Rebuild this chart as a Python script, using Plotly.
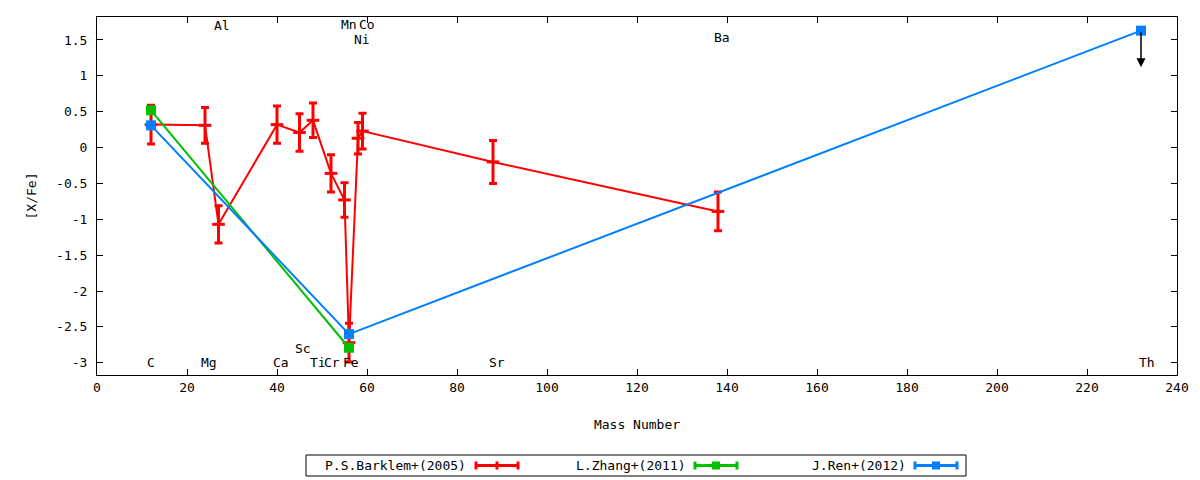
import plotly.graph_objects as go

# [X/Fe] against mass number for three abundance studies
barklem_mass = [12, 24, 27, 40, 45, 48, 52, 55, 56, 58, 59, 88, 138]
barklem_xfe = [0.32, 0.31, -1.07, 0.32, 0.21, 0.38, -0.36, -0.73, -2.72, 0.13, 0.23, -0.20, -0.89]
barklem_err = [0.27, 0.25, 0.26, 0.26, 0.26, 0.24, 0.26, 0.24, 0.27, 0.22, 0.25, 0.30, 0.27]

zhang_mass = [12, 56]
zhang_xfe = [0.52, -2.79]

ren_mass = [12, 56, 232]
ren_xfe = [0.31, -2.60, 1.63]
th_limit_tip = 1.12

elem_names = ["C", "Mg", "Al", "Ca", "Sc", "Ti", "Cr", "Fe", "Mn", "Co", "Ni", "Sr", "Ba", "Th"]
elem_x = [12.1, 24.9, 27.7, 40.9, 45.8, 49.1, 52.3, 56.5, 55.9, 59.9, 58.8, 88.8, 138.8, 233.4]
elem_y = [-3.0, -3.0, 1.7, -3.0, -2.8, -3.0, -3.0, -3.0, 1.71, 1.71, 1.5, -3.0, 1.54, -3.0]

x_ticks = list(range(0, 241, 20))
y_ticks = [1.5, 1, 0.5, 0, -0.5, -1, -1.5, -2, -2.5, -3]
y_ticktext = ["1.5", "1", "0.5", "0", "-0.5", "-1", "-1.5", "-2", "-2.5", "-3"]

RED = "#ff0000"
GREEN = "#00c000"
BLUE = "#0080ff"
FONT = "DejaVu Sans Mono"

fig = go.Figure()

fig.add_trace(go.Scatter(
    x=barklem_mass, y=barklem_xfe, mode="lines+markers", name="P.S.Barklem+(2005)",
    line=dict(color=RED, width=2),
    marker=dict(symbol="line-ew-open", size=9, line=dict(color=RED, width=3)),
    error_y=dict(type="data", array=barklem_err, color=RED, thickness=3, width=4),
))
fig.add_trace(go.Scatter(
    x=zhang_mass, y=zhang_xfe, mode="lines+markers", name="L.Zhang+(2011)",
    line=dict(color=GREEN, width=2),
    marker=dict(symbol="square", size=10, color=GREEN),
))
fig.add_trace(go.Scatter(
    x=ren_mass, y=ren_xfe, mode="lines+markers", name="J.Ren+(2012)",
    line=dict(color=BLUE, width=2),
    marker=dict(symbol="square", size=10, color=BLUE),
))

# Th upper limit arrow
fig.add_annotation(x=ren_mass[-1], y=th_limit_tip, ax=ren_mass[-1], ay=ren_xfe[-1],
                   xref="x", yref="y", axref="x", ayref="y", text="",
                   showarrow=True, arrowhead=2, arrowsize=1.2, arrowwidth=1.5, arrowcolor="black")

for name, ex, ey in zip(elem_names, elem_x, elem_y):
    fig.add_annotation(x=ex, y=ey, text=name, showarrow=False, xref="x", yref="y",
                       font=dict(family=FONT, size=13, color="black"))

# gnuplot-style key below the plot: text first, sample after
# (pixel positions in the window, converted to paper coords of the plot area)
L, R, T, B = 97, 1177, 17, 375
def px(x):
    return (x - L) / (R - L)
def py(y):
    return (B - y) / (B - T)

fig.add_shape(type="rect", xref="paper", yref="paper", x0=px(306), x1=px(966), y0=py(455), y1=py(476),
              line=dict(color="black", width=1))
key = [("P.S.Barklem+(2005)", RED, 468, 476, "tick"),
       ("L.Zhang+(2011)", GREEN, 688, 695, "box"),
       ("J.Ren+(2012)", BLUE, 908, 915, "box")]
ym = 465.5
for label, col, tx, sx, kind in key:
    fig.add_annotation(x=px(tx), y=py(ym), xref="paper", yref="paper", text=label, showarrow=False,
                       xanchor="right", yanchor="middle", font=dict(family=FONT, size=13, color="black"))
    fig.add_shape(type="line", xref="paper", yref="paper", x0=px(sx), x1=px(sx + 42), y0=py(ym), y1=py(ym),
                  line=dict(color=col, width=3))
    for cx in (sx, sx + 42):
        fig.add_shape(type="line", xref="paper", yref="paper", x0=px(cx), x1=px(cx), y0=py(ym - 4), y1=py(ym + 4),
                      line=dict(color=col, width=3))
    mid = sx + 21
    if kind == "tick":
        fig.add_shape(type="line", xref="paper", yref="paper", x0=px(mid), x1=px(mid), y0=py(ym - 4), y1=py(ym + 4),
                      line=dict(color=col, width=3))
    else:
        fig.add_shape(type="rect", xref="paper", yref="paper", x0=px(mid - 4), x1=px(mid + 4),
                      y0=py(ym + 4), y1=py(ym - 4), line=dict(color=col, width=0), fillcolor=col)

axis_common = dict(showline=True, linecolor="black", linewidth=1, mirror="ticks", ticks="inside",
                   ticklen=6, tickcolor="black", showgrid=False, zeroline=False,
                   tickfont=dict(family=FONT, size=13, color="black"))
fig.update_xaxes(range=[0, 240], tickvals=x_ticks, title=dict(text="Mass Number", standoff=26,
                 font=dict(family=FONT, size=13, color="black")), **axis_common)
fig.update_yaxes(range=[-3.17, 1.82], tickvals=y_ticks, ticktext=y_ticktext, ticklabelstandoff=6,
                 title=dict(text="[X/Fe]", standoff=16, font=dict(family=FONT, size=13, color="black")),
                 **axis_common)

# page body has an 8px margin, so the figure is 8px smaller and margins shifted
fig.update_layout(width=1192, height=472, showlegend=False,
                  margin=dict(l=89, r=23, t=9, b=105),
                  plot_bgcolor="white", paper_bgcolor="white",
                  font=dict(family=FONT, size=13, color="black"))

fig.write_html("out.html")
